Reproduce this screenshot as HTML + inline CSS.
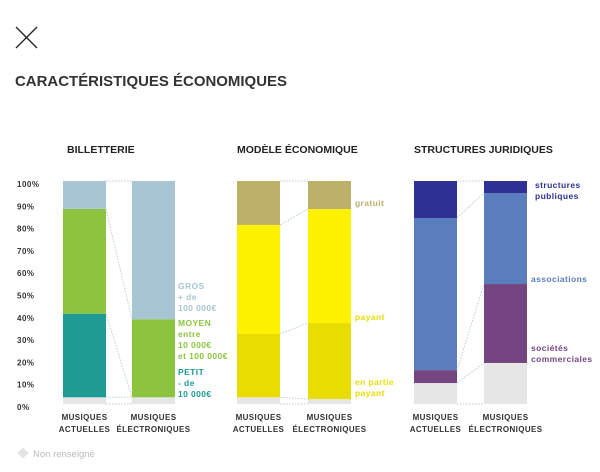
<!DOCTYPE html>
<html><head><meta charset="utf-8"><style>
html,body{margin:0;padding:0;background:#fff;width:600px;height:472px;overflow:hidden}
svg{display:block}
text{font-family:"Liberation Sans",sans-serif}
</style></head><body>
<svg id="c" width="600" height="472">
<g><line x1="16" y1="27" x2="37" y2="48" stroke="#222" stroke-width="1.3"/><line x1="37" y1="27" x2="16" y2="48" stroke="#222" stroke-width="1.3"/></g>
<text x="15" y="86" font-size="15" font-weight="bold" fill="#333" textLength="272" lengthAdjust="spacingAndGlyphs">CARACTÉRISTIQUES ÉCONOMIQUES</text>
<text x="67" y="153" font-size="10.5" font-weight="bold" fill="#222">BILLETTERIE</text>
<text x="237" y="153" font-size="10.5" font-weight="bold" fill="#222">MODÈLE ÉCONOMIQUE</text>
<text x="414" y="153" font-size="10.5" font-weight="bold" fill="#222">STRUCTURES JURIDIQUES</text>
<g><rect x="19" y="449" width="8" height="8" fill="#e3e3e3" transform="rotate(45 23 453)"/><text x="33" y="457" font-size="9.5" fill="#bbb">Non renseigné</text></g>
</svg>
<script>
const ticks=['0%','10%','20%','30%','40%','50%','60%','70%','80%','90%','100%'];
const tickVals=[0,10,20,30,40,50,60,70,80,90,100];
const categories=['MUSIQUES|ACTUELLES','MUSIQUES|ÉLECTRONIQUES'];
// billetterie: non renseigné, petit, moyen, gros
const billMA=[3,37.5,47,12.5];
const billME=[3,0,35,62];
const billColors=['#e6e6e6','#1f9b94','#8cc43f','#a7c5d2'];
// modèle: non renseigné, en partie payant, payant, gratuit
const modMA=[3,28.4,48.9,19.7];
const modME=[2.2,34.1,51.1,12.6];
const modColors=['#e6e6e6','#e9dc00','#fff200','#bdb069'];
// structures: non renseigné, sociétés commerciales, associations, structures publiques
const strMA=[9.4,5.8,68.2,16.6];
const strME=[18.4,35.4,40.8,5.4];
const strColors=['#e6e6e6','#744580','#5a7dbd','#2e3192'];

const svg=document.getElementById('c');
const NS='http://www.w3.org/2000/svg';
function y(v){return 404-v*2.23;}
function mk(t,a){const e=document.createElementNS(NS,t);for(const k in a)e.setAttribute(k,a[k]);svg.appendChild(e);return e;}
tickVals.forEach((v,i)=>{const t=mk('text',{x:17,y:y(v)+6,'font-size':8,'font-weight':'bold',fill:'#333','letter-spacing':0.5});t.textContent=ticks[i];

});
function group(xa,xb,A,B,cols,name){
  const w=43;
  [[xa,A,'actuelles'],[xb,B,'electroniques']].forEach(([x,vals,n])=>{
    let c=0;
    vals.forEach((v,i)=>{const r=mk('rect',{x:x,y:y(c+v),width:w,height:v*2.23,fill:cols[i]});
      
      c+=v;});
  });
  let ca=0,cb=0;
  for(let i=0;i<A.length;i++){
    mk('line',{x1:xa+w,y1:y(ca),x2:xb,y2:y(cb),stroke:'#b9cdd6','stroke-width':1,'stroke-dasharray':'1.5,1.5'});
    ca+=A[i];cb+=B[i];
  }
  mk('line',{x1:xa+w,y1:y(100),x2:xb,y2:y(100),stroke:'#b9cdd6','stroke-width':1,'stroke-dasharray':'1.5,1.5'});
  [[xa,0],[xb,1]].forEach(([x,k])=>{
    const p=categories[k].split('|');
    p.forEach((s,j)=>{const t=mk('text',{x:x+w/2,y:420+j*12,'font-size':8,'font-weight':'bold',fill:'#333','text-anchor':'middle','letter-spacing':0.4});t.textContent=s;
      
      });
  });
}
group(63,132,billMA,billME,billColors,'billetterie');
group(237,308,modMA,modME,modColors,'modele');
group(414,484,strMA,strME,strColors,'structures');
function lbl(x,y0,lines,col,name){lines.forEach((s,j)=>{const t=mk('text',{x:x,y:y0+j*11,'font-size':8.5,'font-weight':'bold',fill:col,'letter-spacing':0.4});t.textContent=s;
  
  });}
lbl(178,289,['GROS','+ de','100 000€'],'#a7c5d2','label-gros');
lbl(178,326,['MOYEN','entre','10 000€','et 100 000€'],'#8cc43f','label-moyen');
lbl(178,375,['PETIT','- de','10 000€'],'#1f9b94','label-petit');
lbl(355,206,['gratuit'],'#bdb069','label-gratuit');
lbl(355,320,['payant'],'#e9dc00','label-payant');
lbl(355,385,['en partie','payant'],'#e9dc00','label-en-partie');
lbl(535,188,['structures','publiques'],'#2e3192','label-publiques');
lbl(531,282,['associations'],'#5a7dbd','label-associations');
lbl(531,351,['sociétés','commerciales'],'#744580','label-societes');
</script>
</body></html>
